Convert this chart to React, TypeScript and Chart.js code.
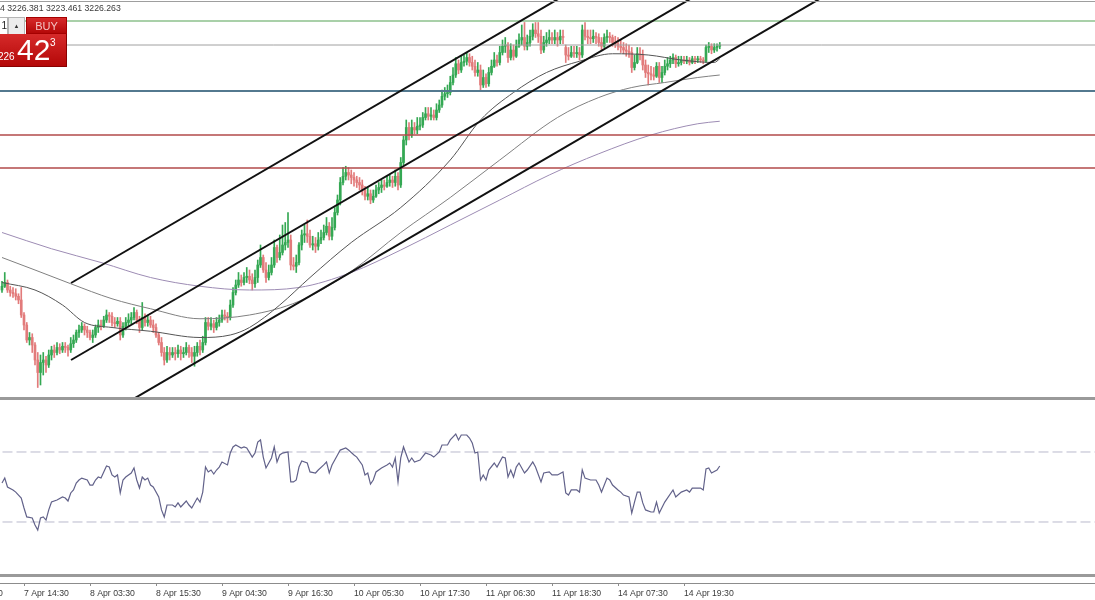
import React, { useEffect, useRef } from "react";
import { Chart, registerables } from "chart.js";
Chart.register(...registerables);

const FONT = "'Liberation Sans', Arial, sans-serif";

// ---- candle data (M30 bars, index 0 = 7 Apr 10:30) ----
const opens = [
  3030,3033,3036,3030,3028,3027,3025,3022,3010,3002,
  2990,2992,2986,2974,2964,2972,2974,2970,2978,2982,
  2980,2984,2982,2985,2984,2982,2987,2990,2996,2998,
  3001,2998,2996,2992,2994,3000,3002,3001,3006,3010,
  3009,3004,3003,3005,2994,3001,3004,3006,3008,3012,
  3006,3000,3008,3004,3006,3002,3000,2994,2988,2980,
  2974,2980,2978,2980,2979,2982,2979,2980,2984,2980,
  2977,2980,2985,2982,2988,3004,3001,3003,3000,3004,
  3006,3010,3009,3008,3018,3028,3034,3038,3036,3040,
  3041,3038,3035,3040,3050,3056,3046,3040,3044,3050,
  3064,3056,3060,3066,3068,3070,3050,3049,3052,3066,
  3074,3075,3073,3066,3067,3065,3070,3072,3076,3081,
  3073,3080,3092,3102,3116,3121,3124,3122,3120,3118,
  3116,3114,3110,3105,3107,3102,3105,3110,3112,3114,
  3113,3116,3118,3116,3121,3114,3132,3150,3160,3154,
  3160,3158,3161,3162,3168,3171,3169,3170,3168,3174,
  3178,3185,3187,3188,3196,3202,3211,3206,3212,3213,
  3216,3212,3209,3204,3206,3194,3200,3195,3204,3209,
  3214,3212,3220,3225,3226,3216,3222,3217,3225,3230,
  3232,3225,3228,3233,3238,3235,3233,3222,3228,3230,
  3232,3230,3232,3230,3233,3224,3218,3217,3220,3219,
  3220,3218,3238,3233,3232,3231,3233,3232,3228,3225,
  3232,3233,3232,3228,3227,3225,3224,3222,3221,3220,
  3208,3212,3219,3218,3210,3204,3203,3202,3201,3209,
  3200,3204,3209,3211,3214,3216,3211,3212,3214,3213,
  3214,3212,3215,3214,3215,3214,3213,3224,3225,3222,
  3224,3225,
];
const highs = [
  3037,3044,3038,3033,3032,3031,3027,3032,3012,3004,
  2996,2995,2988,2980,2978,2980,2977,2982,2985,2986,
  2988,2987,2988,2988,2986,2992,2994,2998,3002,3004,
  3003,3001,2998,2998,3002,3006,3006,3009,3014,3012,
  3012,3008,3008,3008,3004,3008,3011,3012,3016,3014,
  3009,3020,3011,3010,3009,3006,3003,2996,2992,2984,
  2985,2984,2984,2984,2986,2985,2984,2988,2986,2984,
  2985,2988,2990,2993,3008,3008,3008,3006,3008,3010,
  3014,3014,3012,3022,3032,3038,3044,3042,3044,3048,
  3046,3043,3046,3054,3066,3058,3052,3050,3056,3070,
  3066,3074,3082,3084,3092,3074,3056,3058,3068,3078,
  3082,3086,3078,3073,3072,3076,3078,3082,3088,3084,
  3088,3096,3106,3120,3128,3129,3128,3126,3124,3121,
  3120,3118,3113,3112,3110,3110,3114,3116,3118,3118,
  3121,3122,3121,3126,3124,3136,3153,3166,3164,3166,
  3164,3168,3168,3172,3176,3176,3176,3174,3179,3182,
  3190,3192,3194,3201,3208,3216,3214,3217,3218,3220,
  3219,3217,3214,3212,3210,3206,3203,3208,3214,3220,
  3218,3225,3230,3232,3228,3227,3226,3230,3235,3242,
  3244,3234,3238,3243,3244,3244,3238,3233,3236,3238,
  3236,3238,3236,3238,3238,3226,3224,3225,3225,3225,
  3224,3242,3244,3238,3238,3238,3236,3235,3232,3235,
  3238,3236,3234,3233,3232,3230,3228,3227,3226,3224,
  3218,3224,3224,3222,3214,3210,3209,3208,3212,3212,
  3209,3214,3216,3217,3219,3218,3217,3217,3217,3217,
  3216,3217,3217,3217,3217,3216,3226,3228,3227,3227,
  3227,3228,
];
const lows = [
  3028,3032,3028,3025,3024,3022,3019,3008,2998,2988,
  2986,2980,2970,2952,2954,2962,2964,2968,2974,2976,
  2978,2979,2980,2980,2977,2980,2984,2988,2992,2996,
  2994,2992,2990,2988,2992,2996,2998,3000,3004,3004,
  3001,3000,3001,2990,2992,2998,3001,3003,3006,3003,
  2996,2998,3001,3001,3000,2996,2992,2986,2977,2970,
  2972,2974,2976,2974,2976,2974,2976,2978,2976,2972,
  2969,2977,2978,2980,2986,2998,2998,2996,2998,3001,
  3004,3006,3004,3006,3016,3026,3032,3033,3034,3036,
  3035,3030,3032,3036,3048,3044,3036,3038,3042,3048,
  3052,3054,3058,3062,3064,3046,3046,3044,3050,3062,
  3068,3068,3064,3062,3060,3062,3067,3070,3074,3070,
  3070,3078,3090,3098,3114,3118,3118,3115,3113,3112,
  3110,3106,3102,3102,3099,3100,3104,3107,3108,3110,
  3112,3113,3112,3113,3110,3112,3130,3146,3150,3152,
  3155,3155,3158,3160,3166,3166,3166,3166,3166,3172,
  3176,3182,3184,3186,3194,3200,3203,3204,3209,3210,
  3209,3206,3201,3201,3190,3192,3192,3193,3202,3208,
  3209,3210,3218,3220,3212,3214,3214,3216,3224,3226,
  3222,3222,3225,3230,3232,3228,3219,3220,3225,3227,
  3227,3227,3225,3227,3227,3212,3214,3216,3216,3216,
  3214,3216,3230,3227,3227,3228,3227,3225,3222,3224,
  3228,3228,3225,3224,3222,3220,3219,3217,3216,3204,
  3206,3211,3214,3206,3200,3194,3198,3198,3200,3196,
  3196,3202,3206,3208,3211,3208,3209,3210,3211,3211,
  3210,3211,3211,3212,3212,3211,3212,3220,3219,3220,
  3221,3223,
];
const closes = [
  3033,3036,3030,3028,3027,3025,3022,3010,3002,2990,
  2992,2986,2974,2964,2972,2974,2970,2978,2982,2980,
  2984,2982,2985,2984,2982,2987,2990,2996,2998,3001,
  2998,2996,2992,2994,3000,3002,3001,3006,3010,3009,
  3004,3003,3005,2994,3001,3004,3006,3008,3012,3006,
  3000,3008,3004,3006,3002,3000,2994,2988,2980,2974,
  2980,2978,2980,2979,2982,2979,2980,2984,2980,2977,
  2980,2985,2982,2988,3004,3001,3003,3000,3004,3006,
  3010,3009,3008,3018,3028,3034,3038,3036,3040,3041,
  3038,3035,3040,3050,3056,3046,3040,3044,3050,3064,
  3056,3060,3066,3068,3070,3050,3049,3052,3066,3074,
  3075,3073,3066,3067,3065,3070,3072,3076,3081,3073,
  3080,3092,3102,3116,3121,3124,3122,3120,3118,3116,
  3114,3110,3105,3107,3102,3105,3110,3112,3114,3113,
  3116,3118,3116,3121,3114,3132,3150,3160,3154,3160,
  3158,3161,3162,3168,3171,3169,3170,3168,3174,3178,
  3185,3187,3188,3196,3202,3211,3206,3212,3213,3216,
  3212,3209,3204,3206,3194,3200,3195,3204,3209,3214,
  3212,3220,3225,3226,3216,3222,3217,3225,3230,3232,
  3225,3228,3233,3238,3235,3233,3222,3228,3230,3232,
  3230,3232,3230,3233,3232,3218,3217,3220,3219,3220,
  3218,3238,3233,3232,3231,3233,3232,3228,3225,3232,
  3233,3232,3228,3227,3225,3224,3222,3221,3220,3208,
  3212,3219,3218,3210,3204,3203,3202,3201,3209,3200,
  3204,3209,3211,3214,3216,3211,3212,3214,3213,3214,
  3212,3215,3214,3215,3214,3213,3224,3225,3222,3224,
  3225,3226,
];

// ---- moving averages (bar index, price) ----
const maSlowBars = [0, 18, 36, 54, 72, 90, 108, 127, 145, 163, 181, 199, 217, 236, 253, 261];
const maSlowValues = [3076, 3063, 3052, 3040, 3033, 3030, 3032, 3044, 3062, 3082, 3102, 3122, 3139, 3154, 3163, 3165];
const maMidBars = [0, 12, 25, 40, 54, 72, 90, 108, 127, 145, 163, 181, 202, 217, 229, 241, 253, 261];
const maMidValues = [3056, 3046, 3035, 3023, 3015, 3007, 3010, 3021, 3045, 3076, 3104, 3134, 3168, 3184, 3192, 3196, 3200, 3202];
const maFastBars = [0, 12, 22, 30, 40, 54, 72, 83, 90, 101, 112, 127, 145, 163, 174, 186, 198, 210, 222, 235, 247, 259, 261];
const maFastValues = [3036, 3030, 3018, 3004, 3000, 2997, 2992, 2994, 3000, 3018, 3040, 3068, 3096, 3134, 3166, 3188, 3204, 3213, 3219, 3218, 3214, 3212, 3215];

// ---- trend channel (bar index, price) ----
const channelUpperBars = [25.1, 206];
const channelUpperPrices = [3035.6, 3267.6];
const channelMidBars = [25.1, 254];
const channelMidPrices = [2974, 3267.6];
const channelLowBars = [44, 301];
const channelLowPrices = [2938, 3267.6];

// ---- horizontal levels ----
const levelPrices = [3245.2, 3226, 3189.2, 3154, 3127.6];
const levelColors = ["#8cc08c", "#a0a0a0", "#53798f", "#b24a4a", "#b24a4a"];
const levelWidths = [1.5, 1, 2, 1.5, 1.5];

// ---- RSI ----
const rsiBars = [0,1,2,4,5,7,8,9,11,12,13,14,15,16,17,18,20,22,23,24,25,26,27,28,29,31,32,33,34,35,36,37,38,39,40,41,42,43,44,45,47,48,49,50,51,52,53,54,55,57,58,59,60,62,63,64,65,67,68,69,71,72,73,74,75,76,77,78,79,80,82,83,84,85,87,88,89,91,92,93,94,95,96,97,98,99,100,101,102,104,105,106,107,108,109,111,112,114,115,117,118,119,120,122,123,125,126,128,129,131,132,133,134,135,136,138,140,141,142,143,144,145,146,148,149,150,152,154,156,157,159,160,162,163,165,166,167,169,170,171,172,173,174,175,176,177,179,180,182,183,184,185,186,187,188,190,191,193,194,196,197,199,200,202,204,205,206,207,209,210,211,212,214,216,217,218,220,221,222,224,225,226,228,229,230,231,232,233,234,236,237,238,239,241,244,245,247,249,250,251,253,254,255,256,257,258,260,261];
const rsiValues = [52.3,55.1,50.0,48.3,47.1,43.7,38.0,32.9,32.3,28.3,25.4,32.3,32.9,31.1,36.9,41.4,42.6,44.3,43.7,42.0,46.6,48.3,52.3,54.0,55.1,54.0,51.1,51.1,54.0,55.7,55.1,58.6,62.0,61.4,56.9,55.7,56.9,46.6,54.0,55.7,58.0,60.9,54.0,49.4,55.7,54.0,55.1,51.1,50.0,44.3,36.9,32.9,39.7,39.7,38.6,40.9,38.6,42.0,39.7,38.0,43.7,41.4,47.1,61.4,58.6,59.7,57.4,59.7,61.4,64.3,62.6,69.4,72.9,74.0,72.3,72.9,72.3,67.1,69.4,75.7,76.9,67.1,60.9,63.7,66.6,72.9,64.3,68.3,69.4,70.0,52.9,52.9,54.0,61.4,64.9,63.7,58.6,58.0,59.7,62.6,64.3,58.0,62.6,68.3,71.1,72.3,71.1,68.3,67.1,62.6,56.9,58.0,51.7,54.0,58.6,60.9,62.6,63.7,61.4,66.6,52.9,66.6,72.9,64.3,66.6,64.3,65.4,69.4,68.3,67.1,70.0,74.0,74.0,76.9,80.3,76.9,79.7,79.7,78.0,75.1,69.4,70.0,54.0,56.9,54.0,59.7,63.7,61.4,67.1,66.6,55.7,59.7,55.7,61.4,63.7,58.0,59.7,64.3,61.4,52.9,58.0,58.6,56.9,56.9,58.6,46.6,45.4,48.3,48.3,47.1,59.7,55.1,54.0,54.0,51.1,47.1,55.1,54.0,51.1,48.3,47.1,45.4,44.3,35.1,41.4,47.1,47.1,40.9,36.9,35.7,35.7,41.4,35.1,41.4,48.3,44.3,47.1,48.3,47.1,49.4,49.4,49.4,48.3,60.3,60.9,58.0,59.7,62.0];
const rsiLevels = [70, 30];

// ---- time axis ----
const tickBars = [-16, 8, 32, 56, 80, 104, 128, 152, 176, 200, 224, 248];
const tickLabels = ["7 Apr 01:30", "7 Apr 14:30", "8 Apr 03:30", "8 Apr 15:30", "9 Apr 04:30", "9 Apr 16:30", "10 Apr 05:30", "10 Apr 17:30", "11 Apr 06:30", "11 Apr 18:30", "14 Apr 07:30", "14 Apr 19:30"];

const quoteText = "4 3226.381 3223.461 3226.263";

const X_MIN = -0.7273;
const X_MAX = 397.45;
const BULL = "#34a853";
const BEAR = "#e27b7b";

function MainChart() {
  const ref = useRef<HTMLCanvasElement>(null);
  useEffect(() => {
    if (!ref.current) return;
    const idx = opens.map((_, i) => i);
    const colors = idx.map((i) => (closes[i] >= opens[i] ? BULL : BEAR));
    const line = (xs: number[], ys: number[], color: string, width: number, order: number, smooth = false) => ({
      type: "line" as const,
      data: xs.map((x, i) => ({ x, y: ys[i] })),
      borderColor: color,
      borderWidth: width,
      pointRadius: 0,
      fill: false,
      order,
      cubicInterpolationMode: smooth ? ("monotone" as const) : ("default" as const),
    });
    const datasets: any[] = [
      line(channelUpperBars, channelUpperPrices, "#111", 2, 0),
      line(channelMidBars, channelMidPrices, "#111", 2, 0),
      line(channelLowBars, channelLowPrices, "#111", 2, 0),
      ...levelPrices.map((p, k) => line([-10, 420], [p, p], levelColors[k], levelWidths[k], 1)),
      line(maFastBars, maFastValues, "#555", 1, 2, true),
      line(maMidBars, maMidValues, "#808080", 1, 2, true),
      line(maSlowBars, maSlowValues, "#9d8cb4", 1, 2, true),
      {
        type: "bar",
        data: idx.map((i) => ({ x: i, y: [opens[i], closes[i]] })),
        backgroundColor: colors,
        borderWidth: 0,
        barThickness: 2,
        grouped: false,
        minBarLength: 1,
        order: 3,
      },
      {
        type: "bar",
        data: idx.map((i) => ({ x: i, y: [lows[i], highs[i]] })),
        backgroundColor: colors,
        borderWidth: 0,
        barThickness: 1,
        grouped: false,
        order: 4,
      },
    ];
    const chart = new Chart(ref.current, {
      type: "bar",
      data: { datasets },
      options: {
        animation: false,
        responsive: false,
        maintainAspectRatio: false,
        layout: { padding: 0 },
        plugins: { legend: { display: false }, tooltip: { enabled: false } },
        scales: {
          x: { type: "linear", min: X_MIN, max: X_MAX, display: false, offset: false },
          y: { type: "linear", min: 2943.6, max: 3262, display: false },
        },
      },
    } as any);
    return () => chart.destroy();
  }, []);
  return <canvas ref={ref} width={1095} height={398} style={{ position: "absolute", left: 0, top: 0, width: 1095, height: 398 }} />;
}

function RsiChart() {
  const ref = useRef<HTMLCanvasElement>(null);
  useEffect(() => {
    if (!ref.current) return;
    const datasets: any[] = [
      {
        data: rsiBars.map((b, i) => ({ x: b, y: rsiValues[i] })),
        borderColor: "#62628a",
        borderWidth: 1.2,
        pointRadius: 0,
        fill: false,
        order: 0,
      },
      ...rsiLevels.map((lv) => ({
        data: [{ x: -10, y: lv }, { x: 420, y: lv }],
        borderColor: "#b9b9cc",
        borderWidth: 1,
        borderDash: [10, 4],
        pointRadius: 0,
        fill: false,
        order: 1,
      })),
    ];
    const chart = new Chart(ref.current, {
      type: "line",
      data: { datasets },
      options: {
        animation: false,
        responsive: false,
        maintainAspectRatio: false,
        layout: { padding: 0 },
        plugins: { legend: { display: false }, tooltip: { enabled: false } },
        scales: {
          x: {
            type: "linear",
            min: X_MIN,
            max: X_MAX,
            position: "bottom",
            offset: false,
            afterFit: (s: any) => {
              s.height = 17;
              s.paddingLeft = 0;
              s.paddingRight = 0;
            },
            afterBuildTicks: (s: any) => {
              s.ticks = tickBars.map((v) => ({ value: v }));
            },
            ticks: {
              autoSkip: false,
              maxRotation: 0,
              align: "start",
              padding: 2,
              color: "#3a3a3a",
              font: { family: FONT, size: 8.7 },
              callback: (_v: any, i: number) => tickLabels[i],
            },
            grid: { display: true, drawOnChartArea: false, drawTicks: true, tickLength: 3, color: "#8c8c8c" },
            border: { display: true, color: "#8c8c8c" },
          },
          y: { type: "linear", min: -4.857, max: 99.71, display: false },
        },
      },
    } as any);
    return () => chart.destroy();
  }, []);
  return <canvas ref={ref} width={1095} height={200} style={{ position: "absolute", left: 0, top: 400, width: 1095, height: 200 }} />;
}

function BuyWidget() {
  const red = "linear-gradient(#d62a2a, #b40808)";
  return (
    <div style={{ position: "absolute", left: 0, top: 17, width: 67, height: 50, fontFamily: FONT }}>
      <div style={{ position: "absolute", left: -12, top: 0, width: 18, height: 16, background: "#fff", border: "1px solid #b5b5b5", fontSize: 10, lineHeight: "16px", textAlign: "right", color: "#222" }}>1</div>
      <div style={{ position: "absolute", left: 8, top: 0, width: 15, height: 16, background: "#ececec", border: "1px solid #b5b5b5", fontSize: 6, lineHeight: "16px", textAlign: "center", color: "#333" }}>▲</div>
      <div style={{ position: "absolute", left: 26, top: 0, width: 41, height: 17, background: red, border: "1px solid #a50000", boxSizing: "border-box", color: "#f4c4c4", fontSize: 11, lineHeight: "16px", textAlign: "center" }}>BUY</div>
      <div style={{ position: "absolute", left: 0, top: 17, width: 67, height: 33, background: red, borderBottom: "1px solid #8a0000", borderRight: "1px solid #8a0000", boxSizing: "border-box", color: "#fff" }}>
        <span style={{ position: "absolute", left: -2, top: 17, fontSize: 10, lineHeight: "12px" }}>226</span>
        <span style={{ position: "absolute", left: 17, top: -1, fontSize: 30, lineHeight: "34px" }}>42</span>
        <span style={{ position: "absolute", left: 50, top: 3, fontSize: 10, lineHeight: "12px" }}>3</span>
      </div>
    </div>
  );
}

export default function App() {
  return (
    <div style={{ position: "absolute", left: 0, top: 0, width: 1095, height: 600, overflow: "hidden", background: "#fff" }}>
      <MainChart />
      <RsiChart />
      <div style={{ position: "absolute", left: 0, top: 1, width: 1095, height: 1, background: "#9e9e9e" }} />
      <div style={{ position: "absolute", left: 0, top: 397, width: 1095, height: 3, background: "#9a9a9a" }} />
      <div style={{ position: "absolute", left: 0, top: 574, width: 1095, height: 3, background: "#9a9a9a" }} />
      <div style={{ position: "absolute", left: 0, top: 3, fontFamily: FONT, fontSize: 8.7, lineHeight: "10px", color: "#3a3a3a", whiteSpace: "pre" }}>{quoteText}</div>
      <BuyWidget />
    </div>
  );
}
